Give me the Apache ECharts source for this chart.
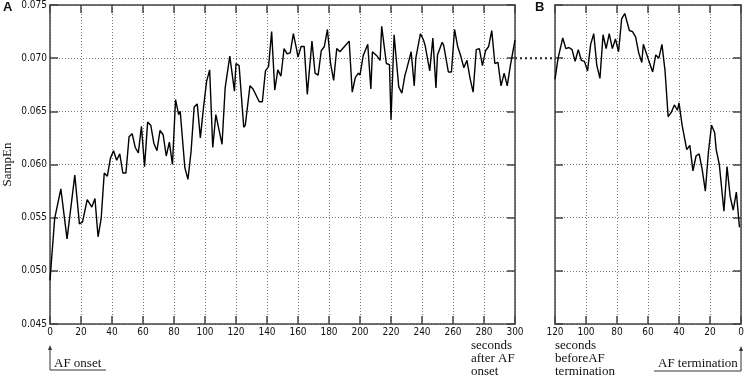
<!DOCTYPE html>
<html>
<head>
<meta charset="utf-8">
<script src="https://cdn.jsdelivr.net/npm/echarts/dist/echarts.min.js"></script>
<style>
  html, body { margin: 0; padding: 0; background: #fff; }
  #chart { width: 745px; height: 377px; }
</style>
</head>
<body>
<div id="chart"></div>
<script>
// panel A: seconds after AF onset
const secAfterOnset = [
  0, 3, 7, 11, 16, 17, 19, 21, 24, 27,
  29, 31, 33, 35, 37, 39, 41, 43, 45, 47,
  49, 51, 53, 55, 57, 59, 61, 63, 65, 67,
  69, 71, 73, 75, 77, 79, 81, 83, 84, 87,
  89, 91, 93, 95, 97, 99, 101, 103, 105, 107,
  111, 113, 114, 116, 119, 120, 122, 125, 126, 129,
  131, 135, 137, 139, 141, 143, 145, 147, 149, 151,
  153, 155, 157, 159, 160, 162, 164, 166, 169, 171,
  173, 175, 177, 179, 181, 183, 185, 187, 190, 193,
  195, 197, 199, 200, 202, 205, 207, 208, 211, 213,
  214, 217, 219, 220, 222, 225, 227, 229, 230, 233,
  235, 236, 239, 241, 242, 245, 247, 249, 250, 253,
  254, 257, 259, 261, 263, 265, 267, 269, 271, 273,
  275, 277, 279, 281, 283, 285, 287, 289, 291, 293,
  295, 297, 300
];
const sampEnAfterOnset = [
  0.0491, 0.0549, 0.0577, 0.0530, 0.0590, 0.0589, 0.0544, 0.0546, 0.0567, 0.0560,
  0.0568, 0.0532, 0.0549, 0.0592, 0.0589, 0.0606, 0.0613, 0.0604, 0.0610, 0.0592,
  0.0592, 0.0626, 0.0629, 0.0616, 0.0611, 0.0636, 0.0598, 0.0640, 0.0637, 0.0620,
  0.0613, 0.0632, 0.0628, 0.0608, 0.0621, 0.0600, 0.0661, 0.0647, 0.0650, 0.0597,
  0.0586, 0.0612, 0.0654, 0.0657, 0.0625, 0.0653, 0.0678, 0.0689, 0.0616, 0.0647,
  0.0619, 0.0672, 0.0673, 0.0702, 0.0669, 0.0695, 0.0693, 0.0635, 0.0637, 0.0674,
  0.0671, 0.0659, 0.0659, 0.0688, 0.0692, 0.0725, 0.0670, 0.0689, 0.0683, 0.0709,
  0.0704, 0.0705, 0.0723, 0.0709, 0.0701, 0.0711, 0.0711, 0.0666, 0.0716, 0.0686,
  0.0684, 0.0707, 0.0711, 0.0727, 0.0695, 0.0679, 0.0709, 0.0706, 0.0711, 0.0716,
  0.0668, 0.0682, 0.0686, 0.0684, 0.0702, 0.0713, 0.0671, 0.0706, 0.0702, 0.0698,
  0.0730, 0.0695, 0.0694, 0.0642, 0.0722, 0.0673, 0.0667, 0.0684, 0.0689, 0.0706,
  0.0674, 0.0700, 0.0723, 0.0717, 0.0712, 0.0688, 0.0719, 0.0672, 0.0703, 0.0715,
  0.0712, 0.0687, 0.0687, 0.0727, 0.0711, 0.0702, 0.0691, 0.0698, 0.0681, 0.0668,
  0.0708, 0.0709, 0.0693, 0.0707, 0.0711, 0.0726, 0.0695, 0.0696, 0.0674, 0.0686,
  0.0674, 0.0693, 0.0717
];

// panel B: seconds before AF termination
const secBeforeTermination = [
  120, 118, 115, 113, 111, 109, 107, 105, 103, 101,
  99, 97, 95, 93, 91, 89, 87, 85, 83, 81,
  79, 77, 75, 72, 70, 68, 66, 64, 63, 60,
  57, 55, 53, 51, 49, 47, 45, 43, 41, 40,
  38, 35, 33, 31, 29, 27, 25, 23, 21, 19,
  17, 16, 14, 11, 9, 7, 5, 3, 1
];
const sampEnBeforeTermination = [
  0.0680, 0.0700, 0.0719, 0.0709, 0.0710, 0.0708, 0.0697, 0.0708, 0.0698, 0.0697,
  0.0688, 0.0713, 0.0723, 0.0693, 0.0681, 0.0722, 0.0709, 0.0723, 0.0709, 0.0718,
  0.0706, 0.0737, 0.0742, 0.0726, 0.0725, 0.0720, 0.0705, 0.0696, 0.0713, 0.0700,
  0.0687, 0.0703, 0.0700, 0.0713, 0.0688, 0.0645, 0.0649, 0.0656, 0.0651, 0.0658,
  0.0637, 0.0614, 0.0618, 0.0594, 0.0608, 0.0610, 0.0595, 0.0575, 0.0612, 0.0637,
  0.0630, 0.0614, 0.0600, 0.0556, 0.0598, 0.0570, 0.0557, 0.0574, 0.0541
];

const yMin = 0.045, yMax = 0.075, yStep = 0.005;
const xMaxA = 300, xMaxB = 120, xStep = 20;
const linkLevel = 0.070;

const axisCol = '#444';
const tickFont = '"DejaVu Sans Condensed", "Liberation Sans Narrow", "Liberation Sans", sans-serif';
const serif = '"Liberation Serif", "DejaVu Serif", serif';
const dotted = { color: '#777', width: 1, type: [1, 2] };

function xAx(grid, max, inverse, top) {
  return {
    type: 'value', gridIndex: grid, min: 0, max: max, interval: xStep, inverse: inverse,
    position: top ? 'top' : 'bottom',
    axisLine: { show: true, onZero: false, lineStyle: { color: axisCol, width: 1.5 } },
    axisTick: { show: true, inside: true, length: 8, lineStyle: { color: axisCol, width: 1.5 } },
    axisLabel: { show: !top, margin: 3, fontSize: 10, color: '#111', fontFamily: tickFont },
    splitLine: { show: !top, lineStyle: dotted }
  };
}
function yAx(grid, right, labels) {
  return {
    type: 'value', gridIndex: grid, min: yMin, max: yMax, interval: yStep,
    position: right ? 'right' : 'left',
    axisLine: { show: true, onZero: false, lineStyle: { color: axisCol, width: 1.5 } },
    axisTick: { show: true, inside: true, length: 8, lineStyle: { color: axisCol, width: 1.5 } },
    axisLabel: { show: labels, margin: 3, fontSize: 10, color: '#111', fontFamily: tickFont,
      formatter: v => v.toFixed(3) },
    splitLine: { show: !right, lineStyle: dotted }
  };
}

const chart = echarts.init(document.getElementById('chart'), null, { renderer: 'canvas' });

const yA = yAx(0, false, true);
yA.name = 'SampEn';
yA.nameLocation = 'middle';
yA.nameGap = 36;
yA.nameMoveOverlap = false;
yA.nameTextStyle = { fontFamily: serif, fontSize: 13, color: '#111' };

chart.setOption({
  animation: false,
  backgroundColor: '#fff',
  grid: [
    { left: 50, top: 5, width: 465, height: 319, containLabel: false, outerBoundsMode: 'none' },
    { left: 555, top: 5, width: 186, height: 319, containLabel: false, outerBoundsMode: 'none' }
  ],
  xAxis: [xAx(0, xMaxA, false, false), xAx(0, xMaxA, false, true),
          xAx(1, xMaxB, true, false), xAx(1, xMaxB, true, true)],
  yAxis: [yA, yAx(0, true, false), yAx(1, false, false), yAx(1, true, false)],
  series: [
    {
      type: 'line', xAxisIndex: 0, yAxisIndex: 0, showSymbol: false,
      lineStyle: { color: '#000', width: 1.4 },
      data: secAfterOnset.map((s, i) => [s, sampEnAfterOnset[i]])
    },
    {
      type: 'line', xAxisIndex: 2, yAxisIndex: 2, showSymbol: false,
      lineStyle: { color: '#000', width: 1.4 },
      data: secBeforeTermination.map((s, i) => [s, sampEnBeforeTermination[i]])
    }
  ]
});

// annotations
const yLink = chart.convertToPixel({ yAxisIndex: 0 }, linkLevel);
const xEndA = chart.convertToPixel({ xAxisIndex: 0 }, xMaxA);
const xStartB = chart.convertToPixel({ xAxisIndex: 2 }, xMaxB);
const xOnset = chart.convertToPixel({ xAxisIndex: 0 }, 0);
const xTerm = chart.convertToPixel({ xAxisIndex: 2 }, 0);

const txt = (x, y, s, extra) => ({
  type: 'text', left: x, top: y,
  style: Object.assign({ text: s, font: '13px ' + serif, fill: '#111', lineHeight: 13 }, extra || {})
});
const seg = (x1, y1, x2, y2) => ({
  type: 'line', shape: { x1: x1, y1: y1, x2: x2, y2: y2 },
  style: { stroke: '#333', lineWidth: 1 }
});
const head = (x, y) => ({
  type: 'polygon', shape: { points: [[x, y], [x - 2, y + 5], [x + 2, y + 5]] },
  style: { fill: '#333' }
});

chart.setOption({
  graphic: [
    { type: 'line', shape: { x1: xEndA, y1: yLink, x2: xStartB, y2: yLink },
      style: { stroke: '#222', lineWidth: 2, lineDash: [2, 3] } },
    txt(3, 1, 'A', { font: 'bold 13px "Liberation Sans", sans-serif' }),
    txt(535, 1, 'B', { font: 'bold 13px "Liberation Sans", sans-serif' }),
    txt(471, 339, 'seconds\nafter AF\nonset'),
    txt(555, 339, 'seconds\nbeforeAF\ntermination'),
    txt(54, 357, 'AF onset'),
    seg(xOnset, 370, xOnset + 56, 370),
    seg(xOnset, 370, xOnset, 348),
    head(xOnset, 345),
    txt(658, 357, 'AF termination'),
    seg(xTerm - 87, 371, xTerm, 371),
    seg(xTerm, 371, xTerm, 349),
    head(xTerm, 346)
  ]
});
</script>
</body>
</html>
